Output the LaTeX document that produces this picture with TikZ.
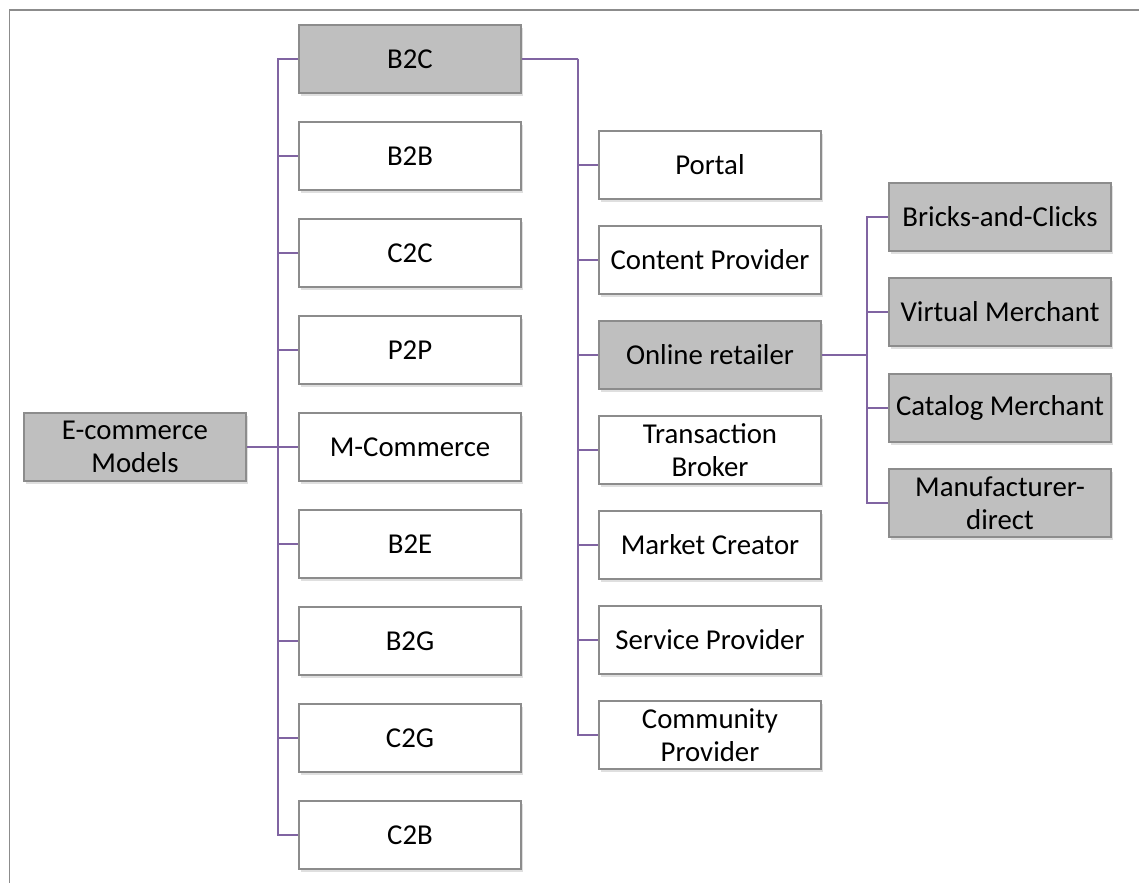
\documentclass[tikz,border=0pt]{standalone}
\usepackage{fontspec}
\setmainfont{Carlito}
\usepackage{tikz}
\usetikzlibrary{shadows, calc}
\definecolor{boxgray}{HTML}{BFBFBF}
\definecolor{edgegray}{HTML}{8C8C8C}
\definecolor{linkpurple}{HTML}{8064A2}
\tikzset{
	model/.style={draw=edgegray, line width=1.5pt, minimum width=222pt, minimum height=68pt,
		inner sep=0pt, align=center, font=\fontsize{28.8}{33}\selectfont,
		drop shadow={shadow xshift=2pt, shadow yshift=-3pt, opacity=0.25}},
	whitebox/.style={model, fill=white},
	graybox/.style={model, fill=boxgray},
	link/.style={draw=linkpurple, line width=1.8pt},
}

\begin{document}
\begin{tikzpicture}[x=1pt, y=-1pt]
		\useasboundingbox (0,0) rectangle (1139,883);
		\draw[edgegray, line width=1.8pt] (1139,10) -- (9.5,10) -- (9.5,883);

		\node[graybox]	(ecom)		at	(135,447)	{E-commerce\\Models};

		\node[graybox]	(b2c)		at	(410,59)	{B2C};
		\node[whitebox]	(b2b)		at	(410,156)	{B2B};
		\node[whitebox]	(c2c)		at	(410,253)	{C2C};
		\node[whitebox]	(p2p)		at	(410,350)	{P2P};
		\node[whitebox]	(mcom)		at	(410,447)	{M-Commerce};
		\node[whitebox]	(b2e)		at	(410,544)	{B2E};
		\node[whitebox]	(b2g)		at	(410,641)	{B2G};
		\node[whitebox]	(c2g)		at	(410,738)	{C2G};
		\node[whitebox]	(c2b)		at	(410,835)	{C2B};

		\node[whitebox]	(portal)	at	(710,165)	{Portal};
		\node[whitebox]	(content)	at	(710,260)	{Content Provider};
		\node[graybox]	(retail)	at	(710,355)	{Online retailer};
		\node[whitebox]	(broker)	at	(710,450)	{Transaction\\Broker};
		\node[whitebox]	(market)	at	(710,545)	{Market Creator};
		\node[whitebox]	(service)	at	(710,640)	{Service Provider};
		\node[whitebox]	(community)	at	(710,735)	{Community\\Provider};

		\node[graybox]	(bricks)	at	(1000,217)	{Bricks-and-Clicks};
		\node[graybox]	(virtual)	at	(1000,312)	{Virtual Merchant};
		\node[graybox]	(catalog)	at	(1000,408)	{Catalog Merchant};
		\node[graybox]	(maker)		at	(1000,503)	{Manufacturer-\\direct};

		\coordinate (modelbus)	at (278,0);
		\coordinate (b2cbus)	at (578,0);
		\coordinate (retailbus)	at (867,0);

		\draw[link] (ecom.east) -- (ecom.east -| modelbus);
		\foreach \n in {b2c,b2b,c2c,p2p,mcom,b2e,b2g,c2g,c2b}
			\draw[link] (ecom.east -| modelbus) |- (\n.west);

		\draw[link] (b2c.east) -- (b2c.east -| b2cbus);
		\foreach \n in {portal,content,retail,broker,market,service,community}
			\draw[link] (b2c.east -| b2cbus) |- (\n.west);

		\draw[link] (retail.east) -- (retail.east -| retailbus);
		\foreach \n in {bricks,virtual,catalog,maker}
			\draw[link] (retail.east -| retailbus) |- (\n.west);
	\end{tikzpicture}
\end{document}
